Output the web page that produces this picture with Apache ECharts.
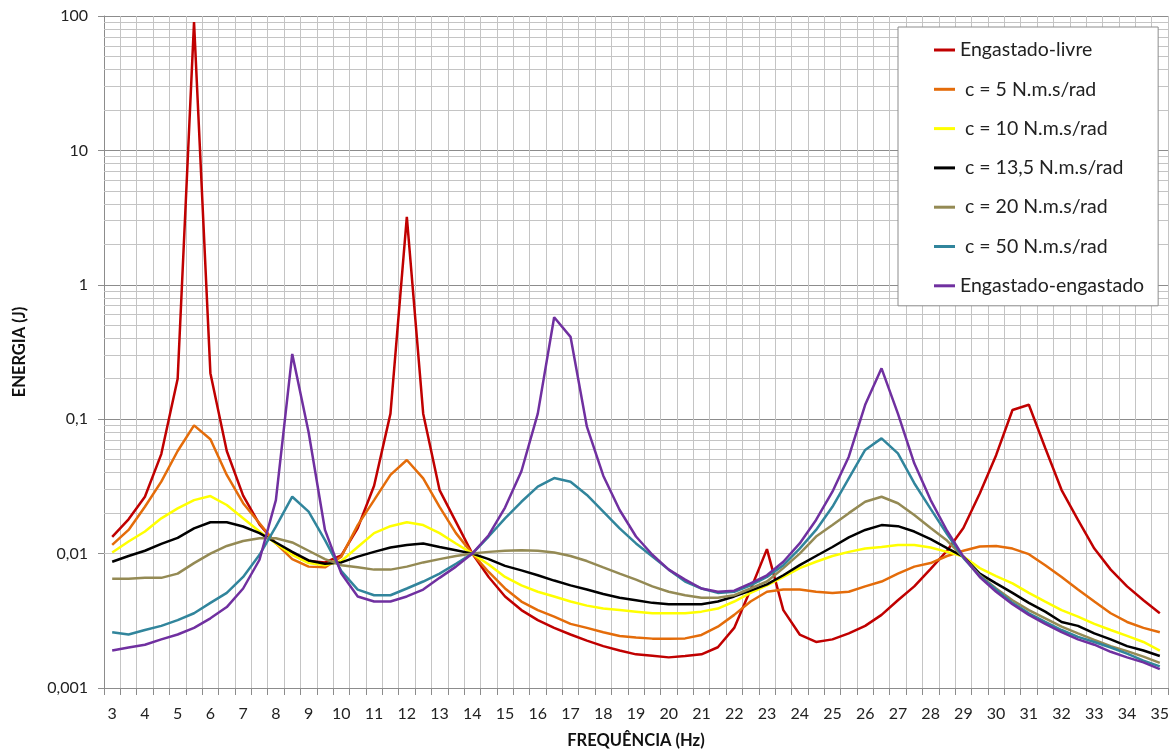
<!DOCTYPE html>
<html>
<head>
<meta charset="utf-8">
<script src="https://cdn.jsdelivr.net/npm/echarts@6/dist/echarts.min.js"></script>
<style>
html,body{margin:0;padding:0;background:#fff;}
#chart{width:1174px;height:752px;}
</style>
</head>
<body>
<div id="chart"></div>
<script>
const categories = [3,3.5,4,4.5,5,5.5,6,6.5,7,7.5,8,8.5,9,9.5,10,10.5,11,11.5,12,12.5,13,13.5,14,14.5,15,15.5,16,16.5,17,17.5,18,18.5,19,19.5,20,20.5,21,21.5,22,22.5,23,23.5,24,24.5,25,25.5,26,26.5,27,27.5,28,28.5,29,29.5,30,30.5,31,31.5,32,32.5,33,33.5,34,34.5,35];

const seriesNames = ['Engastado-livre',' c = 5 N.m.s/rad',' c = 10 N.m.s/rad',' c = 13,5 N.m.s/rad',' c = 20 N.m.s/rad',' c = 50 N.m.s/rad','Engastado-engastado'];
const seriesColors = ['#C00000','#E46C0A','#FFFF00','#000000','#948A54','#31859C','#7030A0'];

const livre = [0.0133,0.018,0.0265,0.055,0.2,90,0.22,0.058,0.027,0.0165,0.0119,0.0100,0.0088,0.0086,0.0097,0.0155,0.032,0.11,3.2,0.11,0.0297,0.0172,0.0100,0.0067,0.0048,0.0038,0.0032,0.0028,0.0025,0.00225,0.00205,0.0019,0.00178,0.00174,0.00169,0.00173,0.00178,0.00201,0.0028,0.0054,0.0108,0.0038,0.0025,0.0022,0.0023,0.00255,0.0029,0.0035,0.0045,0.0057,0.0077,0.0105,0.0155,0.028,0.054,0.117,0.128,0.061,0.0297,0.0178,0.0109,0.0076,0.0057,0.0045,0.0036];
const c5 = [0.0116,0.015,0.0223,0.0343,0.058,0.09,0.071,0.0385,0.0237,0.0168,0.0119,0.0091,0.0080,0.0079,0.0095,0.0163,0.025,0.0385,0.0497,0.0363,0.0223,0.0142,0.0100,0.0073,0.0055,0.0044,0.0038,0.0034,0.0030,0.0028,0.0026,0.00244,0.00238,0.00233,0.00233,0.00234,0.00248,0.00286,0.0035,0.0044,0.0052,0.0054,0.0054,0.0052,0.0051,0.0052,0.0057,0.0062,0.0071,0.0080,0.0085,0.0096,0.0105,0.0113,0.0114,0.0109,0.0099,0.0082,0.0067,0.0054,0.0044,0.0036,0.0031,0.0028,0.0026];
const c10 = [0.0102,0.0123,0.0146,0.0183,0.0217,0.025,0.0268,0.023,0.0183,0.0146,0.0119,0.0098,0.0085,0.0082,0.0088,0.0112,0.0142,0.016,0.0171,0.0163,0.0142,0.0119,0.0100,0.0083,0.0067,0.0058,0.0052,0.0048,0.0044,0.0041,0.0039,0.0038,0.0037,0.0036,0.0036,0.0036,0.0037,0.0039,0.0044,0.0051,0.0058,0.0067,0.0078,0.0087,0.0096,0.0103,0.0109,0.0112,0.0116,0.0116,0.0111,0.0103,0.0095,0.0078,0.0068,0.0060,0.0051,0.0044,0.0038,0.0034,0.0030,0.0027,0.00244,0.0022,0.0019];
const c135 = [0.0087,0.0096,0.0105,0.0118,0.0131,0.0154,0.0171,0.0171,0.0159,0.0142,0.0121,0.0103,0.0089,0.0084,0.0086,0.0095,0.0103,0.0111,0.0116,0.0119,0.0112,0.0106,0.0100,0.0091,0.0081,0.0075,0.0069,0.0063,0.0058,0.0054,0.0050,0.0047,0.0045,0.0043,0.0042,0.0042,0.0042,0.0044,0.0048,0.0053,0.0059,0.0069,0.0082,0.0096,0.0112,0.0132,0.0150,0.0163,0.0160,0.0146,0.0128,0.0110,0.0095,0.0071,0.0060,0.0051,0.0043,0.0037,0.0031,0.0029,0.00255,0.0023,0.00205,0.0019,0.00173];
const c20 = [0.0065,0.0065,0.0066,0.0066,0.0071,0.0085,0.0100,0.0114,0.0124,0.0130,0.0130,0.0121,0.0105,0.0091,0.0082,0.0079,0.0076,0.0076,0.0080,0.0086,0.0091,0.0096,0.0100,0.0103,0.0105,0.0106,0.0105,0.0102,0.0096,0.0088,0.0079,0.0071,0.0064,0.0057,0.0052,0.0049,0.0047,0.0047,0.0049,0.0055,0.0062,0.0078,0.0100,0.0134,0.0163,0.0200,0.0243,0.0265,0.0237,0.0194,0.0155,0.0125,0.0094,0.0069,0.0055,0.0045,0.0038,0.0033,0.00286,0.00255,0.00228,0.00205,0.00188,0.00171,0.00154];
const c50 = [0.0026,0.0025,0.0027,0.0029,0.0032,0.0036,0.0043,0.0051,0.0067,0.0098,0.0159,0.0265,0.0205,0.0126,0.0074,0.0054,0.0049,0.0049,0.0055,0.0062,0.0071,0.0084,0.0100,0.0134,0.0183,0.0243,0.0315,0.0365,0.0343,0.0273,0.0205,0.0154,0.0119,0.0095,0.0076,0.0062,0.0055,0.0051,0.0052,0.0058,0.0067,0.0082,0.0109,0.0150,0.0223,0.0363,0.059,0.072,0.0557,0.0334,0.0215,0.0140,0.0093,0.0068,0.0054,0.0043,0.0036,0.0031,0.0027,0.0024,0.0022,0.0020,0.0018,0.0016,0.00145];
const engastado = [0.0019,0.0020,0.0021,0.0023,0.0025,0.0028,0.0033,0.0040,0.0055,0.0090,0.025,0.306,0.08,0.015,0.0071,0.0048,0.0044,0.0044,0.0048,0.0054,0.0066,0.0080,0.0100,0.0137,0.022,0.041,0.11,0.573,0.41,0.088,0.038,0.0211,0.0134,0.0098,0.0076,0.0064,0.0055,0.0052,0.0053,0.0060,0.0069,0.0087,0.0119,0.0178,0.0289,0.0526,0.128,0.239,0.11,0.047,0.025,0.0148,0.0095,0.0067,0.0052,0.0042,0.0035,0.0030,0.0026,0.0023,0.0021,0.00186,0.00169,0.00155,0.00138];

const yTickLabels = ['0,001','0,01','0,1','1','10','100'];
const xAxisTitle = 'FREQUÊNCIA (Hz)';
const yAxisTitle = 'ENERGIA (J)';

const seriesValues = [livre, c5, c10, c135, c20, c50, engastado];

// minor log grid values (2..9 per decade)
const minorGrid = [];
for (let d = -3; d <= 1; d++) {
  for (let k = 2; k <= 9; k++) minorGrid.push({ yAxis: k * Math.pow(10, d) });
}

const FONT = 'Lato, "Open Sans", sans-serif';

const chart = echarts.init(document.getElementById('chart'), null, { renderer: 'canvas' });

const series = seriesValues.map((vals, i) => ({
  name: seriesNames[i],
  type: 'line',
  data: vals,
  z: 3,
  showSymbol: false,
  symbol: 'none',
  lineStyle: { color: seriesColors[i], width: 2.5 },
  itemStyle: { color: seriesColors[i] },
  emphasis: { disabled: true },
  animation: false
}));

series.unshift({
  name: 'minorGrid',
  type: 'line',
  data: categories.map(() => null),
  z: 1,
  silent: true,
  symbol: 'none',
  animation: false,
  markLine: {
    z: 1,
    silent: true,
    symbol: ['none', 'none'],
    animation: false,
    label: { show: false },
    lineStyle: { color: '#c4c4c4', width: 1, type: 'solid' },
    emphasis: { disabled: true },
    data: minorGrid
  }
});

chart.setOption({
  animation: false,
  backgroundColor: '#ffffff',
  grid: { left: 104, right: 6, top: 16, bottom: 64, containLabel: false, outerBoundsMode: 'none' },
  legend: {
    data: seriesNames,
    orient: 'vertical',
    left: 898,
    top: 27,
    z: 10,
    padding: [12, 14, 9, 36],
    itemGap: 17.3,
    itemWidth: 21,
    itemHeight: 3,
    icon: 'rect',
    backgroundColor: '#ffffff',
    borderColor: '#8c8c8c',
    borderWidth: 1,
    borderRadius: 0,
    selectedMode: false,
    textStyle: { fontFamily: FONT, fontSize: 19.5, color: '#222', lineHeight: 22 }
  },
  xAxis: {
    type: 'category',
    data: categories,
    boundaryGap: true,
    name: xAxisTitle,
    nameLocation: 'middle',
    nameGap: 44,
    nameTextStyle: { fontFamily: FONT, fontSize: 16.5, fontWeight: 'bold', color: '#111' },
    axisLine: { show: true, lineStyle: { color: '#8c8c8c', width: 1 } },
    axisTick: { show: true, interval: 0, length: 7, lineStyle: { color: '#8c8c8c' } },
    axisLabel: {
      interval: 1,
      margin: 18,
      fontFamily: FONT, fontSize: 16, color: '#222',
      formatter: v => String(v).replace('.', ',')
    },
    splitLine: { show: true, interval: 0, lineStyle: { color: '#c4c4c4', width: 1 } }
  },
  yAxis: {
    type: 'log',
    logBase: 10,
    min: 0.001,
    max: 100,
    splitNumber: 5,
    name: yAxisTitle,
    nameLocation: 'middle',
    nameGap: 76,
    nameRotate: 90,
    nameTextStyle: { fontFamily: FONT, fontSize: 16.5, fontWeight: 'bold', color: '#111' },
    axisLine: { show: true, lineStyle: { color: '#8c8c8c', width: 1 } },
    axisTick: { show: true, length: 6, lineStyle: { color: '#8c8c8c' } },
    axisLabel: {
      margin: 16,
      fontFamily: FONT, fontSize: 16, color: '#222',
      formatter: v => {
        const idx = Math.round(Math.log10(v)) + 3;
        return yTickLabels[idx] !== undefined ? yTickLabels[idx] : '';
      }
    },
    splitLine: { show: true, lineStyle: { color: '#8c8c8c', width: 1 } }
  },
  series: series
});
</script>
</body>
</html>
